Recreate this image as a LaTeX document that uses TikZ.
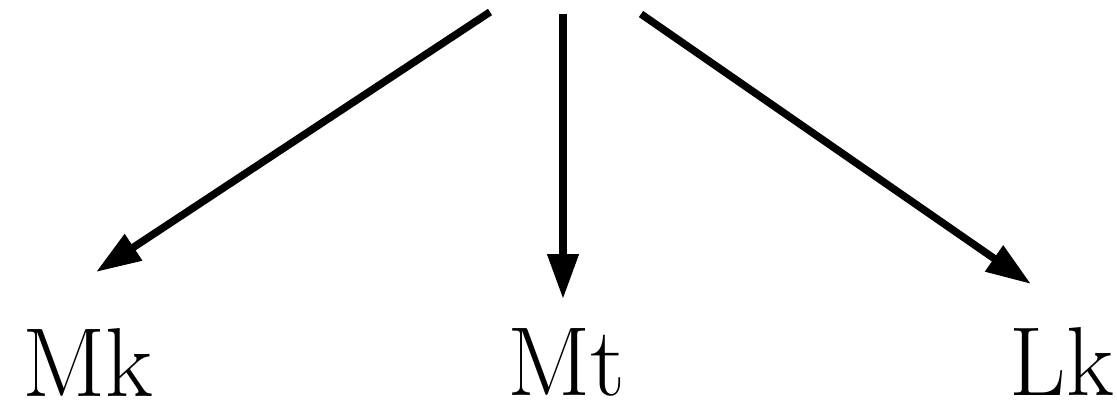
\documentclass[tikz,border=0pt]{standalone}
\usetikzlibrary{arrows.meta}
\begin{document}
\begin{tikzpicture}[x=1pt,y=-1pt,
  conn/.style={line width=7.5pt,-{Triangle[length=45pt,width=30pt]}},
  lbl/.style={inner sep=0pt,text depth=0pt,font=\fontsize{98}{100}\selectfont}]
\useasboundingbox (0,0) rectangle (1117,408);
\coordinate (s1) at (490,12);
\coordinate (s2) at (563,14);
\coordinate (s3) at (641,14);
\coordinate (t1) at (96,272);
\coordinate (t2) at (563,299);
\coordinate (t3) at (1031,284);
\node[lbl,anchor=base west] (mk) at (22,396) {Mk};
\node[lbl,anchor=base west] (mt) at (507,395) {Mt};
\node[lbl,anchor=base east] (lk) at (1114,395) {Lk};
\draw[conn] (s1) -- (t1);
\draw[conn] (s2) -- (t2);
\draw[conn] (s3) -- (t3);
\end{tikzpicture}
\end{document}
